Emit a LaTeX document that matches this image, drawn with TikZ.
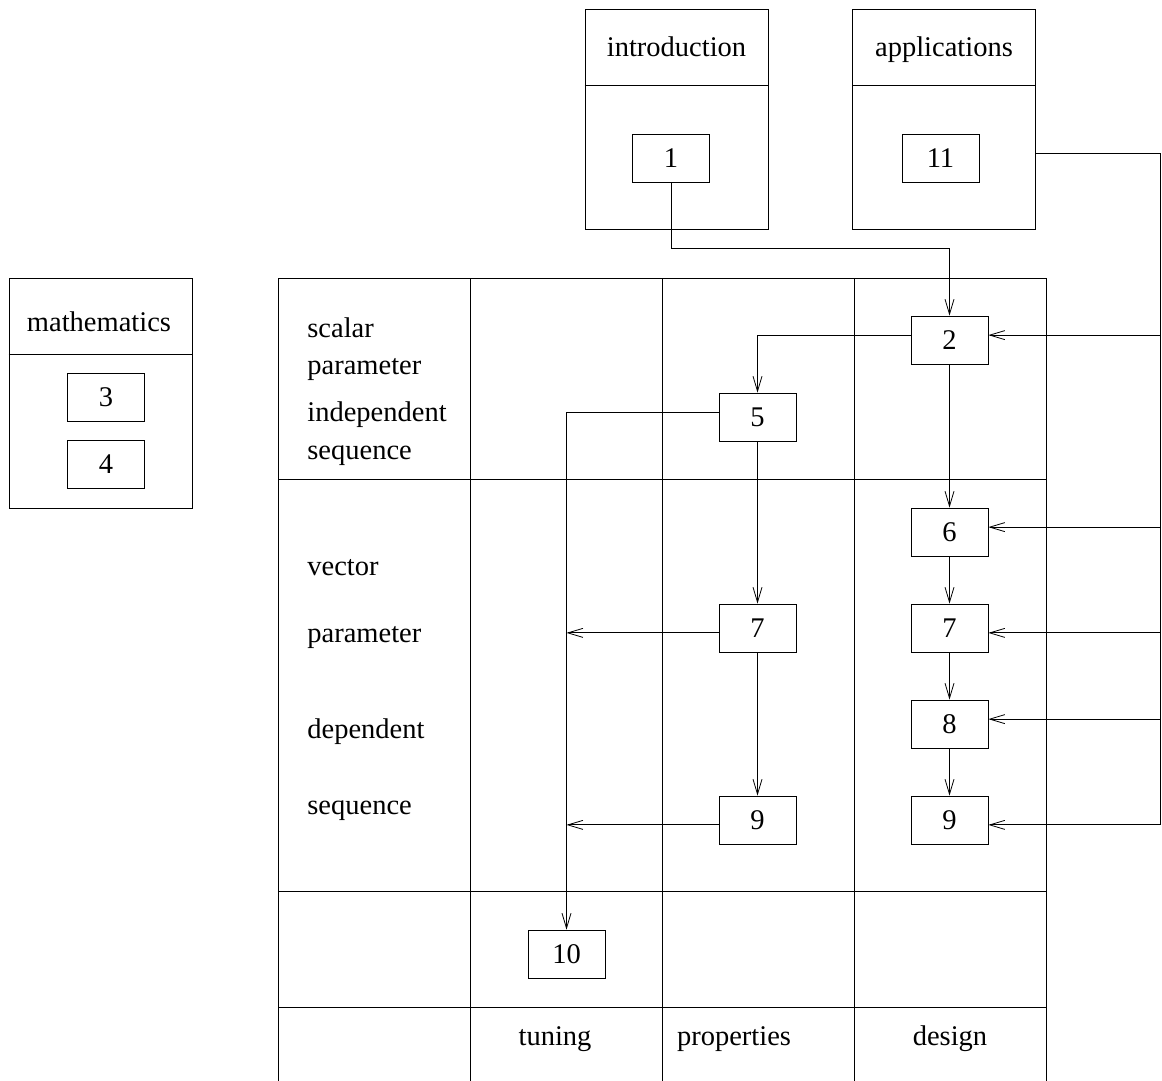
\documentclass[tikz,border=0pt]{standalone}
\usepackage{fontspec}
\setmainfont{Liberation Serif}
\usetikzlibrary{arrows.meta,calc}
\begin{document}
\begin{tikzpicture}[x=1pt,y=-1pt, line width=0.8pt,
  txt/.style={font=\fontsize{28.5}{34}\selectfont},
  numbox/.style={draw, txt, minimum width=77pt, minimum height=48pt, inner sep=0pt},
  frame/.style={draw, minimum width=183pt, minimum height=220pt, inner sep=0pt},
  lbl/.style={txt, inner sep=0pt, anchor=base west},
  head/.style={txt, inner sep=0pt, anchor=base},
  arr/.style={-{Straight Barb[length=15pt,width=9pt]}}]
\useasboundingbox (0,0) rectangle (1162,1081);
% outer frames
\node[frame] (introF) at (676.5,119) {};
\draw (introF.west |- 0,85) -- (introF.east |- 0,85);
\node[head] (introT) at (676.5,57) {introduction};
\node[frame] (appF) at (944,119) {};
\draw (appF.west |- 0,85) -- (appF.east |- 0,85);
\node[head] (appT) at (944,57) {applications};
\node[frame, minimum height=230pt] (mathF) at (100.5,393) {};
\draw (mathF.west |- 0,354) -- (mathF.east |- 0,354);
\node[head] (mathT) at (99,331) {mathematics};
% grid
\draw (278,1081) -- (278,278) -- (1046,278) -- (1046,1081);
\foreach \x in {470,662,854} \draw (\x,278) -- (\x,1081);
\foreach \y in {479,891,1007} \draw (278,\y) -- (1046,\y);
% row labels
\node[lbl] (r1) at (307,337) {scalar};
\node[lbl] (r2) at (307,374) {parameter};
\node[lbl] (r3) at (307,421) {independent};
\node[lbl] (r4) at (307,459) {sequence};
\node[lbl] (r5) at (307,575) {vector};
\node[lbl] (r6) at (307,642) {parameter};
\node[lbl] (r7) at (307,738) {dependent};
\node[lbl] (r8) at (307,814) {sequence};
% column labels
\node[head] (c1) at (555,1045) {tuning};
\node[head] (c2) at (734,1045) {properties};
\node[head] (c3) at (950,1045) {design};
% number boxes
\node[numbox] (n1) at (671,158) {1};
\node[numbox] (n11) at (940.5,158) {11};
\node[numbox] (n3) at (106,397.5) {3};
\node[numbox] (n4) at (106,464.5) {4};
\node[numbox] (n2) at (949.5,340) {2};
\node[numbox] (n5) at (757.5,417) {5};
\node[numbox] (n6) at (949.5,532) {6};
\node[numbox] (n7p) at (757.5,628) {7};
\node[numbox] (n7d) at (949.5,628) {7};
\node[numbox] (n8) at (949.5,724) {8};
\node[numbox] (n9p) at (757.5,820) {9};
\node[numbox] (n9d) at (949.5,820) {9};
\node[numbox] (n10) at (566.5,954) {10};
% attachment points
\coordinate (k1) at (0,248);
\coordinate (bus) at (1160,0);
\coordinate (e11) at ($(n11.north east)!0.4!(n11.south east)$);
\coordinate (e2) at ($(n2.north east)!0.4!(n2.south east)$);
\coordinate (w2) at ($(n2.north west)!0.4!(n2.south west)$);
\coordinate (w5) at ($(n5.north west)!0.4!(n5.south west)$);
\coordinate (e6) at ($(n6.north east)!0.4!(n6.south east)$);
\coordinate (e7) at ($(n7d.north east)!0.6!(n7d.south east)$);
\coordinate (e8) at ($(n8.north east)!0.4!(n8.south east)$);
\coordinate (e9) at ($(n9d.north east)!0.6!(n9d.south east)$);
\coordinate (w7) at ($(n7p.north west)!0.6!(n7p.south west)$);
\coordinate (w9) at ($(n9p.north west)!0.6!(n9p.south west)$);
% connectors
\draw[arr] (n1.south) -- (n1.south |- k1) -| (n2.north);
\draw[arr] (w2) -| (n5.north);
\draw[arr] (n2.south) -- (n6.north);
\draw[arr] (n6.south) -- (n7d.north);
\draw[arr] (n7d.south) -- (n8.north);
\draw[arr] (n8.south) -- (n9d.north);
\draw[arr] (n5.south) -- (n7p.north);
\draw[arr] (n7p.south) -- (n9p.north);
\draw[arr] (w5) -| (n10.north);
\draw[arr] (w7) -- (w7 -| n10.north);
\draw[arr] (w9) -- (w9 -| n10.north);
\draw[arr] (appF.east |- e11) -| (bus |- e9) -- (e9);
\draw[arr] (bus |- e2) -- (e2);
\draw[arr] (bus |- e6) -- (e6);
\draw[arr] (bus |- e7) -- (e7);
\draw[arr] (bus |- e8) -- (e8);
\end{tikzpicture}
\end{document}
